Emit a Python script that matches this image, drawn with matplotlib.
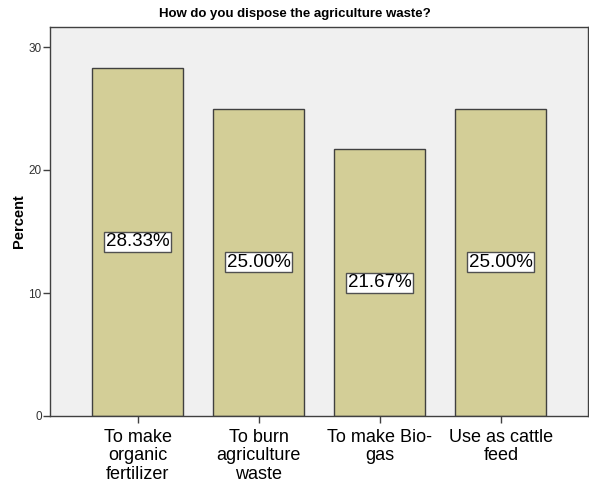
import matplotlib
matplotlib.use("Agg")
import matplotlib.pyplot as plt

categories = ["To make\norganic\nfertilizer", "To burn\nagriculture\nwaste", "To make Bio-\ngas", "Use as cattle\nfeed"]
values = [28.33, 25.00, 21.67, 25.00]
labels = ["28.33%", "25.00%", "21.67%", "25.00%"]
yticks = [0, 10, 20, 30]

plt.rcParams['font.family'] = ['Liberation Sans', 'DejaVu Sans']
fig = plt.figure(figsize=(5.89, 4.88), dpi=100)
ax = fig.add_axes([50/589, 1-416/488, 538/589, (416-27)/488])
ax.set_facecolor('#f0f0f0')
x = list(range(len(values)))
ax.bar(x, values, width=0.75, color='#d3ce97', edgecolor='#404040', linewidth=1.0, zorder=2)
for xi, v, lab in zip(x, values, labels):
    ax.text(xi, v/2, lab, ha='center', va='center', fontsize=13.5, color='black', zorder=3,
            bbox=dict(boxstyle='square,pad=0.08', facecolor='white', edgecolor='#505050', linewidth=1.0))
ax.set_xlim(-0.723, 3.72)
ax.set_ylim(0, (416-27)/12.3)
ax.set_yticks(yticks)
ax.set_yticklabels([str(t) for t in yticks], fontsize=8.5, color='#333333')
ax.set_xticks(x)
ax.set_xticklabels(categories, fontsize=13, linespacing=1.12)
ax.tick_params(axis='y', length=5, width=1, color='#404040', pad=1)
ax.tick_params(axis='x', length=5, width=1, color='#404040', pad=4)
for s in ax.spines.values():
    s.set_color('#404040')
    s.set_linewidth(1.0)
ax.set_ylabel('Percent', fontsize=10.5, fontweight='bold', labelpad=2)
fig.text(0.5, 1-14/488, 'How do you dispose the agriculture waste?', ha='center', va='center',
         fontsize=9.5, fontweight='bold', family=['Liberation Sans Narrow', 'Liberation Sans', 'DejaVu Sans'])
fig.savefig('out.png', dpi=100)
